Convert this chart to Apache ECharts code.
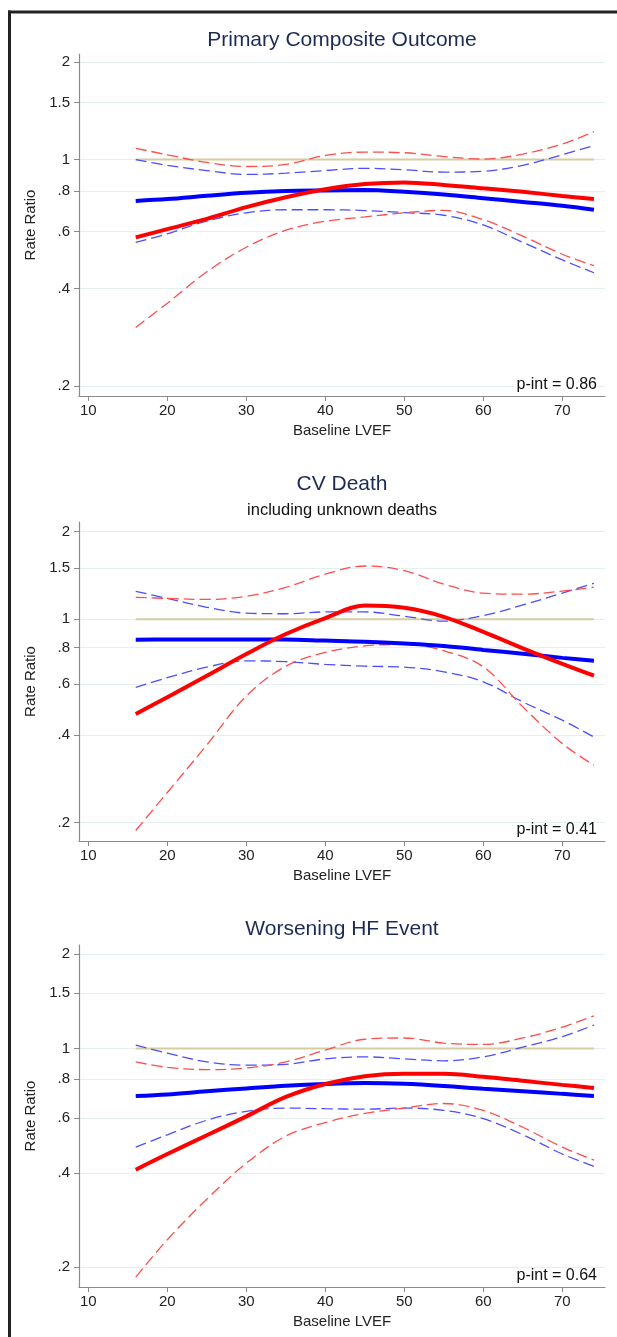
<!DOCTYPE html>
<html>
<head>
<meta charset="utf-8">
<title>Rate Ratio by Baseline LVEF</title>
<script src="https://cdn.jsdelivr.net/npm/echarts@6/dist/echarts.min.js"></script>
<style>
  html, body { margin: 0; padding: 0; background: #fff; }
  #chart { width: 617px; height: 1337px; }
</style>
</head>
<body>
<div id="chart"></div>
<script>
const lvef = [16, 20, 25, 30, 35, 40, 45, 50, 55, 60, 65, 70, 74];
// reference line at rate ratio 1
const refX = [16, 74];
const refY = [1, 1];

const xTicks = [10, 20, 30, 40, 50, 60, 70];
const yTicks = [0.2, 0.4, 0.6, 0.8, 1, 1.5, 2];

const panelTitles = ['Primary Composite Outcome', 'CV Death', 'Worsening HF Event'];
const panelSubtitles = ['', 'including unknown deaths', ''];
const pInt = ['0.86', '0.41', '0.64'];

// Primary composite outcome
const blueEst1 = [0.745, 0.755, 0.773, 0.79, 0.80, 0.803, 0.805, 0.795, 0.78, 0.76, 0.74, 0.72, 0.70];
const blueLo1 = [0.555, 0.59, 0.646, 0.685, 0.70, 0.70, 0.696, 0.686, 0.673, 0.628, 0.555, 0.49, 0.447];
const blueHi1 = [1.0, 0.96, 0.925, 0.90, 0.908, 0.925, 0.94, 0.93, 0.915, 0.92, 0.96, 1.035, 1.105];
const redEst1 = [0.575, 0.61, 0.656, 0.713, 0.765, 0.81, 0.84, 0.85, 0.835, 0.815, 0.795, 0.772, 0.755];
const redLo1 = [0.303, 0.36, 0.45, 0.536, 0.605, 0.645, 0.665, 0.685, 0.697, 0.652, 0.58, 0.51, 0.47];
const redHi1 = [1.084, 1.035, 0.98, 0.952, 0.966, 1.03, 1.055, 1.05, 1.022, 1.004, 1.04, 1.117, 1.22];

// CV death
const blueEst2 = [0.851, 0.852, 0.853, 0.853, 0.852, 0.845, 0.838, 0.826, 0.81, 0.785, 0.762, 0.737, 0.72];
const blueLo2 = [0.584, 0.63, 0.685, 0.72, 0.715, 0.70, 0.69, 0.685, 0.66, 0.61, 0.52, 0.45, 0.394];
const blueHi2 = [1.248, 1.18, 1.10, 1.05, 1.045, 1.06, 1.06, 1.025, 0.985, 1.03, 1.12, 1.23, 1.33];
const redEst2 = [0.473, 0.54, 0.64, 0.76, 0.89, 1.01, 1.115, 1.095, 1.02, 0.905, 0.795, 0.703, 0.64];
const redLo2 = [0.188, 0.254, 0.37, 0.545, 0.69, 0.77, 0.81, 0.82, 0.78, 0.686, 0.50, 0.374, 0.315];
const redHi2 = [1.19, 1.18, 1.17, 1.2, 1.288, 1.43, 1.525, 1.47, 1.32, 1.23, 1.22, 1.25, 1.29];

// Worsening HF event
const blueEst3 = [0.705, 0.713, 0.73, 0.745, 0.76, 0.77, 0.775, 0.771, 0.759, 0.743, 0.73, 0.716, 0.705];
const blueLo3 = [0.484, 0.53, 0.59, 0.63, 0.645, 0.642, 0.64, 0.645, 0.634, 0.597, 0.53, 0.46, 0.42];
const blueHi3 = [1.025, 0.966, 0.906, 0.884, 0.89, 0.926, 0.94, 0.926, 0.913, 0.94, 1.01, 1.09, 1.188];
const redEst3 = [0.41, 0.46, 0.528, 0.607, 0.70, 0.77, 0.815, 0.83, 0.83, 0.812, 0.788, 0.765, 0.748];
const redLo3 = [0.186, 0.245, 0.33, 0.43, 0.525, 0.58, 0.62, 0.645, 0.667, 0.634, 0.56, 0.484, 0.44];
const redHi3 = [0.906, 0.87, 0.856, 0.866, 0.906, 0.988, 1.07, 1.08, 1.04, 1.03, 1.08, 1.17, 1.27];

const panelData = [
  { blueEst: blueEst1, blueLo: blueLo1, blueHi: blueHi1, redEst: redEst1, redLo: redLo1, redHi: redHi1 },
  { blueEst: blueEst2, blueLo: blueLo2, blueHi: blueHi2, redEst: redEst2, redLo: redLo2, redHi: redHi2 },
  { blueEst: blueEst3, blueLo: blueLo3, blueHi: blueHi3, redEst: redEst3, redLo: redLo3, redHi: redHi3 }
];

// plot area placement for each panel (pixels)
const layout = [
  { top: 54, bottom: 396, yMin: 0.186, yMax: 2.12, titleY: 40 },
  { top: 522, bottom: 841, yMin: 0.173, yMax: 2.16, titleY: 484, subY: 510 },
  { top: 945, bottom: 1287, yMin: 0.173, yMax: 2.14, titleY: 929 }
];

const FONT = "'Liberation Sans', Arial, Helvetica, sans-serif";
const plotLeft = 79;
const plotRight = 605;
const plotMid = (plotLeft + plotRight) / 2;

const pairs = (xs, ys) => xs.map((x, i) => [x, ys[i]]);
const fmtTick = v => (v < 1 ? String(v).replace(/^0/, '') : String(v));

const grid = [];
const xAxis = [];
const yAxis = [];
const series = [];
const graphic = [];

layout.forEach((p, i) => {
  grid.push({ left: plotLeft, right: 617 - plotRight, top: p.top, height: p.bottom - p.top });

  xAxis.push({
    gridIndex: i,
    type: 'value',
    min: 8.82,
    max: 75.4,
    name: 'Baseline LVEF',
    nameLocation: 'middle',
    nameGap: 27,
    nameTextStyle: { color: '#222', fontSize: 15, fontFamily: FONT },
    axisLine: { show: true, onZero: false, lineStyle: { color: '#8a8a8a', width: 1.2 } },
    axisTick: { show: true, length: 5, customValues: xTicks, lineStyle: { color: '#8a8a8a' } },
    axisLabel: { customValues: xTicks, margin: 7, color: '#222', fontSize: 15, fontFamily: FONT },
    splitLine: { show: false }
  });

  yAxis.push({
    gridIndex: i,
    type: 'log',
    logBase: 10,
    min: p.yMin,
    max: p.yMax,
    name: 'Rate Ratio',
    nameLocation: 'middle',
    nameGap: 39,
    nameTextStyle: { color: '#222', fontSize: 15, fontFamily: FONT },
    axisLine: { show: true, lineStyle: { color: '#8a8a8a', width: 1.2 } },
    axisTick: { show: true, length: 5, customValues: yTicks, lineStyle: { color: '#8a8a8a' } },
    axisLabel: { customValues: yTicks, margin: 9, color: '#222', fontSize: 15, fontFamily: FONT, formatter: fmtTick },
    splitLine: { show: true, lineStyle: { color: '#e6eff0', width: 1 } }
  });

  const d = panelData[i];
  const base = { xAxisIndex: i, yAxisIndex: i, type: 'line', showSymbol: false, silent: true, smooth: 0.35 };
  const dashed = (ys, color) => Object.assign({}, base, {
    data: pairs(lvef, ys), z: 3,
    lineStyle: { color: color, width: 1.3, type: [11, 5] }
  });

  series.push(Object.assign({}, base, {
    data: pairs(refX, refY), smooth: false, z: 2,
    lineStyle: { color: '#d6cc9f', width: 2 }
  }));
  series.push(dashed(d.blueHi, '#4d4dff'));
  series.push(dashed(d.blueLo, '#4d4dff'));
  series.push(dashed(d.redHi, '#ff4d4d'));
  series.push(dashed(d.redLo, '#ff4d4d'));
  series.push(Object.assign({}, base, {
    data: pairs(lvef, d.blueEst), z: 4,
    lineStyle: { color: '#0000ff', width: 4 }
  }));
  series.push(Object.assign({}, base, {
    data: pairs(lvef, d.redEst), z: 5,
    lineStyle: { color: '#ff0000', width: 4 }
  }));

  graphic.push({
    type: 'text', x: plotMid, y: p.titleY,
    style: { text: panelTitles[i], align: 'center', verticalAlign: 'middle', fill: '#1c2a56', font: '21px ' + FONT }
  });
  if (panelSubtitles[i]) {
    graphic.push({
      type: 'text', x: plotMid, y: p.subY,
      style: { text: panelSubtitles[i], align: 'center', verticalAlign: 'middle', fill: '#111', font: '16.5px ' + FONT }
    });
  }
  graphic.push({
    type: 'text', x: 597, y: p.bottom - 11, z: 10,
    style: {
      text: 'p-int = ' + pInt[i], align: 'right', verticalAlign: 'middle', fill: '#111', font: '16px ' + FONT,
      lineHeight: 14, backgroundColor: '#fff', padding: [0, 0, 0, 3]
    }
  });
});

// outer frame (left and top edges)
graphic.push({ type: 'line', shape: { x1: 9.5, y1: 10.5, x2: 9.5, y2: 1337 }, style: { stroke: '#222', lineWidth: 3 } });
graphic.push({ type: 'line', shape: { x1: 8, y1: 12, x2: 617, y2: 12 }, style: { stroke: '#222', lineWidth: 3 } });

const chart = echarts.init(document.getElementById('chart'), null, { renderer: 'canvas' });
chart.setOption({
  animation: false,
  backgroundColor: '#fff',
  grid: grid,
  xAxis: xAxis,
  yAxis: yAxis,
  series: series,
  graphic: graphic
});
</script>
</body>
</html>
